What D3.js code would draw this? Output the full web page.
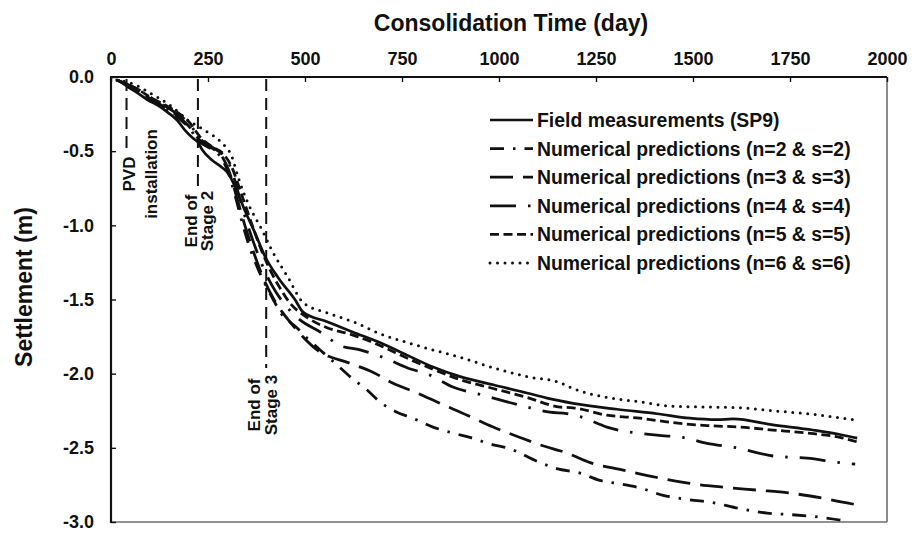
<!DOCTYPE html>
<html>
<head>
<meta charset="utf-8">
<script src="https://cdn.jsdelivr.net/npm/d3@7"></script>
<style>
  html, body { margin: 0; padding: 0; background: #fff; }
  svg { display: block; font-family: "Liberation Sans", Arial, Helvetica, sans-serif; font-weight: bold; }
</style>
</head>
<body>
<svg id="chart" width="916" height="533"></svg>
<script>
// ---- axis ticks ----
const timeTicks = [0, 250, 500, 750, 1000, 1250, 1500, 1750, 2000];
const settlementTicks = [0, -0.5, -1.0, -1.5, -2.0, -2.5, -3.0];
const settlementTickLabels = ["0.0", "-0.5", "-1.0", "-1.5", "-2.0", "-2.5", "-3.0"];

// ---- field measurements (SP9) ----
const fieldDays = [18, 45, 70, 95, 120, 147, 170, 191, 210, 224, 235, 260, 286, 302, 320, 345, 371, 397, 430, 474, 495, 557, 624, 693, 763, 830, 900, 985, 1072, 1124, 1191, 1304, 1407, 1492, 1562, 1603, 1706, 1809, 1879, 1923];
const fieldSettlement = [-0.02, -0.07, -0.11, -0.155, -0.19, -0.24, -0.29, -0.36, -0.41, -0.44, -0.49, -0.56, -0.61, -0.65, -0.74, -0.90, -1.05, -1.21, -1.35, -1.50, -1.585, -1.65, -1.72, -1.79, -1.875, -1.955, -2.02, -2.075, -2.13, -2.165, -2.20, -2.24, -2.27, -2.30, -2.31, -2.305, -2.345, -2.38, -2.41, -2.435];

// ---- numerical predictions ----
const n2Days = [15, 60, 110, 160, 200, 230, 255, 280, 300, 320, 340, 360, 380, 400, 420, 436, 479, 505, 539, 582, 616, 660, 693, 737, 778, 830, 881, 925, 985, 1021, 1106, 1149, 1209, 1260, 1304, 1363, 1423, 1492, 1552, 1621, 1691, 1750, 1835, 1887];
const n2Settlement = [-0.02, -0.08, -0.17, -0.25, -0.34, -0.44, -0.48, -0.53, -0.63, -0.80, -1.00, -1.17, -1.30, -1.41, -1.51, -1.585, -1.69, -1.76, -1.84, -1.94, -2.02, -2.11, -2.19, -2.26, -2.30, -2.36, -2.40, -2.43, -2.48, -2.50, -2.60, -2.64, -2.67, -2.72, -2.74, -2.77, -2.82, -2.85, -2.87, -2.91, -2.94, -2.95, -2.97, -2.99];

const n3Days = [15, 60, 110, 160, 200, 230, 260, 285, 305, 325, 345, 370, 395, 420, 440, 461, 531, 616, 675, 727, 789, 848, 918, 985, 1054, 1106, 1175, 1235, 1320, 1407, 1492, 1577, 1665, 1750, 1835, 1923];
const n3Settlement = [-0.02, -0.08, -0.16, -0.24, -0.33, -0.43, -0.48, -0.53, -0.64, -0.82, -1.00, -1.20, -1.37, -1.50, -1.58, -1.65, -1.84, -1.93, -1.99, -2.065, -2.13, -2.20, -2.28, -2.36, -2.43, -2.48, -2.535, -2.60, -2.65, -2.70, -2.74, -2.765, -2.785, -2.805, -2.84, -2.885];

const n4Days = [15, 60, 110, 160, 200, 235, 265, 290, 310, 330, 350, 375, 400, 425, 450, 479, 546, 590, 642, 701, 763, 822, 881, 951, 1021, 1080, 1131, 1175, 1209, 1278, 1407, 1474, 1536, 1613, 1706, 1794, 1879, 1918];
const n4Settlement = [-0.02, -0.07, -0.15, -0.23, -0.31, -0.43, -0.48, -0.53, -0.62, -0.80, -0.98, -1.17, -1.33, -1.45, -1.54, -1.62, -1.73, -1.81, -1.84, -1.89, -1.96, -2.01, -2.09, -2.14, -2.19, -2.23, -2.26, -2.27, -2.29, -2.36, -2.415, -2.43, -2.47, -2.50, -2.555, -2.57, -2.60, -2.61];

const n5Days = [15, 60, 110, 160, 200, 235, 260, 290, 310, 335, 360, 385, 410, 435, 460, 505, 557, 624, 693, 763, 830, 900, 985, 1072, 1157, 1191, 1278, 1363, 1448, 1536, 1621, 1706, 1794, 1879, 1923];
const n5Settlement = [-0.02, -0.07, -0.15, -0.22, -0.30, -0.42, -0.47, -0.52, -0.60, -0.78, -0.97, -1.15, -1.30, -1.42, -1.52, -1.62, -1.69, -1.74, -1.81, -1.895, -1.97, -2.04, -2.10, -2.16, -2.225, -2.23, -2.28, -2.30, -2.33, -2.35, -2.36, -2.38, -2.40, -2.43, -2.46];

const n6Days = [15, 60, 95, 157, 198, 242, 286, 312, 327, 353, 389, 415, 456, 495, 557, 624, 693, 763, 830, 900, 985, 1072, 1157, 1191, 1278, 1363, 1448, 1536, 1621, 1706, 1794, 1912];
const n6Settlement = [-0.02, -0.05, -0.10, -0.20, -0.29, -0.36, -0.445, -0.54, -0.67, -0.85, -1.03, -1.17, -1.35, -1.52, -1.59, -1.65, -1.73, -1.79, -1.84, -1.89, -1.96, -2.02, -2.06, -2.10, -2.16, -2.19, -2.22, -2.225, -2.23, -2.25, -2.27, -2.31];

const seriesNames = [
  "Field measurements (SP9)",
  "Numerical predictions (n=2 & s=2)",
  "Numerical predictions (n=3 & s=3)",
  "Numerical predictions (n=4 & s=4)",
  "Numerical predictions (n=5 & s=5)",
  "Numerical predictions (n=6 & s=6)"
];

// ---- construction-stage markers ----
const stageDays = [40, 224, 400];

// series table assembled from the arrays above, with line styles
const series = [
  { name: seriesNames[0], days: fieldDays, values: fieldSettlement, dash: null,            cap: "butt",  width: 2.7 },
  { name: seriesNames[1], days: n2Days,    values: n2Settlement,    dash: "14,9,2.5,9",    cap: "butt",  width: 2.8 },
  { name: seriesNames[2], days: n3Days,    values: n3Settlement,    dash: "23,10",         cap: "butt",  width: 2.8 },
  { name: seriesNames[3], days: n4Days,    values: n4Settlement,    dash: "26,12,2.5,12",  cap: "butt",  width: 2.8 },
  { name: seriesNames[4], days: n5Days,    values: n5Settlement,    dash: "9,4.5",         cap: "butt",  width: 2.8 },
  { name: seriesNames[5], days: n6Days,    values: n6Settlement,    dash: "0,7.5",         cap: "round", width: 3.0 }
];

const svg = d3.select("#chart");
const plot = { left: 111, right: 887, top: 77, bottom: 522 };

const x = d3.scaleLinear().domain([0, 2000]).range([plot.left, plot.right]);
const y = d3.scaleLinear().domain([0, -3]).range([plot.top, plot.bottom]);

// ---- plot frame: heavy top/left axes, light right/bottom edges ----
svg.append("line").attr("x1", plot.right).attr("x2", plot.right)
  .attr("y1", plot.top).attr("y2", plot.bottom)
  .attr("stroke", "#6e6e6e").attr("stroke-width", 1.6);
svg.append("line").attr("x1", plot.left).attr("x2", plot.right)
  .attr("y1", plot.bottom).attr("y2", plot.bottom)
  .attr("stroke", "#6e6e6e").attr("stroke-width", 1.6);

// ---- top axis (time) ----
const xAxis = svg.append("g")
  .attr("transform", `translate(0,${plot.top})`)
  .call(d3.axisTop(x).tickValues(timeTicks).tickSize(-5).tickPadding(12).tickFormat(d3.format("d")));
xAxis.select(".domain").remove();
xAxis.selectAll(".tick line").attr("stroke", "#111").attr("stroke-width", 1.4);
xAxis.selectAll(".tick text").attr("font-size", 18).attr("font-family", null).attr("fill", "#111");

// ---- left axis (settlement) ----
const yAxis = svg.append("g")
  .attr("transform", `translate(${plot.left},0)`)
  .call(d3.axisLeft(y).tickValues(settlementTicks).tickSize(-5).tickPadding(17)
    .tickFormat((d, i) => settlementTickLabels[i]));
yAxis.select(".domain").remove();
yAxis.selectAll(".tick line").attr("stroke", "#111").attr("stroke-width", 1.4);
yAxis.selectAll(".tick text").attr("font-size", 18).attr("font-family", null).attr("fill", "#111");

svg.append("line").attr("x1", plot.left - 1).attr("x2", plot.right)
  .attr("y1", plot.top).attr("y2", plot.top)
  .attr("stroke", "#111").attr("stroke-width", 2.2);
svg.append("line").attr("x1", plot.left).attr("x2", plot.left)
  .attr("y1", plot.top).attr("y2", plot.bottom + 1)
  .attr("stroke", "#111").attr("stroke-width", 2.2);

// ---- axis titles ----
svg.append("text")
  .attr("x", 511).attr("y", 31)
  .attr("text-anchor", "middle").attr("font-size", 23).attr("fill", "#111")
  .text("Consolidation Time (day)");

svg.append("text")
  .attr("transform", "translate(32,287) rotate(-90)")
  .attr("text-anchor", "middle").attr("font-size", 23).attr("fill", "#111")
  .text("Settlement (m)");

// ---- stage markers ----
const markerEnds = [155, 187, 368];
stageDays.forEach((d, i) => {
  svg.append("line")
    .attr("x1", x(d)).attr("x2", x(d))
    .attr("y1", plot.top + 2).attr("y2", markerEnds[i])
    .attr("stroke", "#111").attr("stroke-width", 2)
    .attr("stroke-dasharray", "12,7");
});

const markerLabels = [
  { lines: ["PVD", "installation"], cy: 174, base: [135, 157] },
  { lines: ["End of", "Stage 2"],   cy: 221, base: [197, 213] },
  { lines: ["End of", "Stage 3"],   cy: 405, base: [260, 277] }
];
markerLabels.forEach(lbl => {
  lbl.lines.forEach((t, j) => {
    svg.append("text")
      .attr("transform", `translate(${lbl.base[j]},${lbl.cy}) rotate(-90)`)
      .attr("text-anchor", "middle").attr("font-size", 17).attr("fill", "#111")
      .text(t);
  });
});

// ---- settlement curves ----
const line = d3.line()
  .x(p => x(p[0]))
  .y(p => y(p[1]))
  .curve(d3.curveMonotoneX);

const curves = svg.append("g");
series.forEach(s => {
  const pts = s.days.map((d, i) => [d, s.values[i]]);
  curves.append("path")
    .attr("d", line(pts))
    .attr("fill", "none")
    .attr("stroke", "#111")
    .attr("stroke-width", s.width)
    .attr("stroke-linecap", s.cap)
    .attr("stroke-linejoin", "round")
    .attr("stroke-dasharray", s.dash);
});

// ---- legend ----
const legend = svg.append("g").attr("transform", "translate(490,120)");
series.forEach((s, i) => {
  const row = legend.append("g").attr("transform", `translate(0,${i * 28.6})`);
  row.append("line")
    .attr("x1", 0).attr("x2", 43).attr("y1", 0).attr("y2", 0)
    .attr("stroke", "#111").attr("stroke-width", s.width)
    .attr("stroke-linecap", s.cap)
    .attr("stroke-dasharray", s.dash);
  row.append("text")
    .attr("x", 47).attr("y", 0).attr("dy", "0.36em")
    .attr("font-size", 19.4).attr("fill", "#111")
    .text(s.name);
});
</script>
</body>
</html>
